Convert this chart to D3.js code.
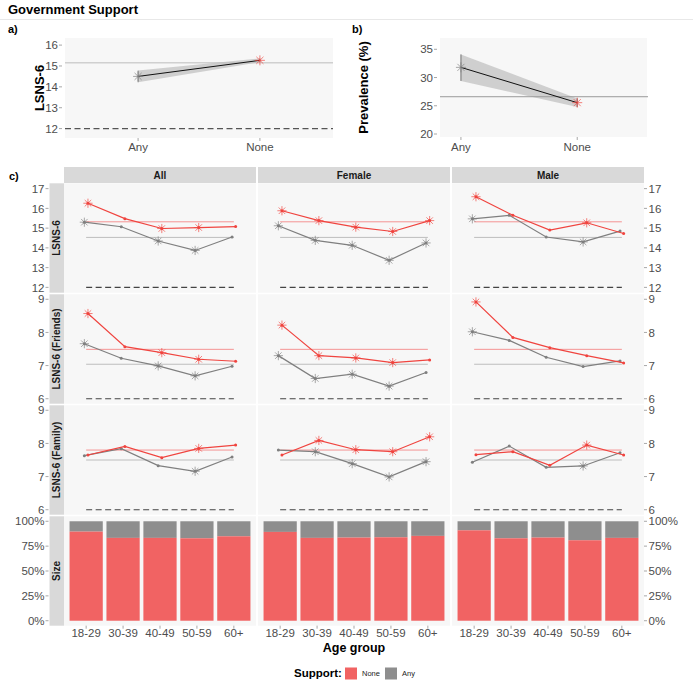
<!DOCTYPE html>
<html>
<head>
<meta charset="utf-8">
<script src="https://cdn.jsdelivr.net/npm/d3@7"></script>
<style>
  body { margin: 0; background: #fff; }
  svg { font-family: "Liberation Sans", Arial, sans-serif; }
</style>
</head>
<body>
<div id="chart"></div>
<script>
// ---- data ----
const supportLevels = ["Any", "None"];
const aMean = [14.5, 15.27];
const aLow = [14.22, 15.18];
const aHigh = [14.78, 15.36];
const aRef = 15.15;
const aFloor = 12;

const bMean = [31.8, 25.55];
const bLow = [29.4, 24.8];
const bHigh = [34.1, 26.3];
const bRef = 26.6;

const ageGroups = ["18-29", "30-39", "40-49", "50-59", "60+"];
const facets = ["All", "Female", "Male"];
const outcomes = ["LSNS-6", "LSNS-6 (Friends)", "LSNS-6 (Family)"];

// one row per facet (All, Female, Male)
const lsnsNone = [[16.26, 15.48, 14.98, 15.03, 15.08], [15.88, 15.38, 15.05, 14.83, 15.38], [16.59, 15.65, 14.90, 15.27, 14.73]];
const lsnsAny = [[15.30, 15.07, 14.35, 13.87, 14.55], [15.12, 14.38, 14.13, 13.37, 14.25], [15.47, 15.65, 14.55, 14.30, 14.85]];
const lsnsNoneSig = [[1, 0, 1, 1, 0], [1, 1, 1, 1, 1], [1, 0, 0, 1, 0]];
const lsnsAnySig = [[1, 0, 1, 1, 0], [1, 1, 1, 1, 1], [1, 0, 0, 1, 0]];

const friendsNone = [[8.57, 7.57, 7.39, 7.19, 7.13], [8.22, 7.30, 7.23, 7.09, 7.17], [8.92, 7.85, 7.54, 7.30, 7.08]];
const friendsAny = [[7.66, 7.22, 6.99, 6.69, 6.98], [7.30, 6.61, 6.74, 6.38, 6.79], [8.02, 7.76, 7.25, 6.97, 7.14]];
const friendsNoneSig = [[1, 0, 1, 1, 0], [1, 1, 1, 1, 0], [1, 0, 0, 0, 0]];
const friendsAnySig = [[1, 0, 1, 1, 0], [1, 1, 1, 1, 0], [1, 0, 0, 0, 0]];

const familyNone = [[7.65, 7.91, 7.57, 7.85, 7.95], [7.65, 8.09, 7.81, 7.75, 8.20], [7.66, 7.75, 7.34, 7.95, 7.65]];
const familyAny = [[7.63, 7.84, 7.33, 7.16, 7.59], [7.80, 7.75, 7.39, 6.99, 7.45], [7.43, 7.92, 7.28, 7.32, 7.72]];
const familyNoneSig = [[0, 0, 0, 1, 0], [0, 1, 1, 1, 1], [0, 0, 0, 1, 0]];
const familyAnySig = [[0, 0, 0, 1, 0], [0, 1, 1, 1, 1], [0, 0, 0, 1, 0]];

const refNone = [15.32, 7.49, 7.80];
const refAny = [14.53, 7.04, 7.50];
const floorLine = [12, 6, 6];

const shareNone = [[0.896, 0.833, 0.833, 0.829, 0.849], [0.893, 0.833, 0.836, 0.839, 0.853], [0.909, 0.829, 0.836, 0.809, 0.833]];

const rowDomains = [[11.73, 17.27], [5.85, 9.15], [5.85, 9.15], [-0.05, 1.05]];
const rowTicks = [[12, 13, 14, 15, 16, 17], [6, 7, 8, 9], [6, 7, 8, 9], [0, 0.25, 0.5, 0.75, 1]];
const rowLabels = ["LSNS-6", "LSNS-6 (Friends)", "LSNS-6 (Family)", "Size"];

// ---- look ----
const W = 693, H = 681;
const RED = "#F0443F";
const RED_BAR = "#F16363";
const GREY = "#7F7F7F";
const GREY_BAR = "#8E8E8E";
const PANEL_BG = "#F7F7F7";
const STRIP_BG = "#D9D9D9";
const TICK_COL = "#4D4D4D";

const svg = d3.select("#chart").append("svg").attr("width", W).attr("height", H);

// title
svg.append("text").attr("x", 8).attr("y", 14).attr("font-size", 13).attr("font-weight", "bold").text("Government Support");
svg.append("line").attr("x1", 0).attr("x2", W).attr("y1", 19.5).attr("y2", 19.5).attr("stroke", "#E8E8E8");

function asterisk(g, x, y, colour, r = 4.6) {
  const d = r * Math.SQRT1_2;
  g.append("path")
    .attr("d", `M${x},${y - r}L${x},${y + r}M${x - r},${y}L${x + r},${y}M${x - d},${y - d}L${x + d},${y + d}M${x - d},${y + d}L${x + d},${y - d}`)
    .attr("stroke", colour).attr("stroke-width", 0.8).attr("fill", "none").attr("opacity", 0.85);
}

function leftAxis(g, y, ticks, x0, fmt = d => d) {
  ticks.forEach(t => {
    g.append("line").attr("x1", x0 - 4).attr("x2", x0 - 1).attr("y1", y(t)).attr("y2", y(t)).attr("stroke", "#6b6b6b").attr("stroke-width", 0.6);
    g.append("text").attr("x", x0 - 5).attr("y", y(t)).attr("dy", "0.36em").attr("text-anchor", "end")
      .attr("font-size", 11.5).attr("fill", TICK_COL).text(fmt(t));
  });
}

// ---------- panel a ----------
{
  const x0 = 65, x1 = 333, y0 = 38, y1 = 138;
  const g = svg.append("g");
  const x = d3.scalePoint().domain(supportLevels).range([x0, x1]).padding(0.6);
  const y = d3.scaleLinear().domain([11.55, 16.34]).range([y1, y0]);
  g.append("rect").attr("x", x0).attr("y", y0).attr("width", x1 - x0).attr("height", y1 - y0).attr("fill", PANEL_BG);
  g.append("text").attr("x", 8).attr("y", 33).attr("font-size", 11).attr("font-weight", "bold").text("a)");
  leftAxis(g, y, [12, 13, 14, 15, 16], x0 - 2);
  g.append("text").attr("transform", `translate(44,${(y0 + y1) / 2}) rotate(-90)`).attr("text-anchor", "middle")
    .attr("font-size", 13).attr("font-weight", "bold").text("LSNS-6");
  supportLevels.forEach(s => {
    g.append("line").attr("x1", x(s)).attr("x2", x(s)).attr("y1", y1).attr("y2", y1 + 3).attr("stroke", "#6b6b6b").attr("stroke-width", 0.6);
    g.append("text").attr("x", x(s)).attr("y", y1 + 13).attr("text-anchor", "middle").attr("font-size", 11.5).attr("fill", TICK_COL).text(s);
  });
  g.append("line").attr("x1", x0).attr("x2", x1).attr("y1", y(aRef)).attr("y2", y(aRef)).attr("stroke", "#BDBDBD").attr("stroke-width", 1);
  g.append("line").attr("x1", x0).attr("x2", x1).attr("y1", y(aFloor)).attr("y2", y(aFloor)).attr("stroke", "#555").attr("stroke-width", 1.3).attr("stroke-dasharray", "6,3.5");
  const area = d3.area().x((d, i) => x(supportLevels[i])).y0((d, i) => y(aLow[i])).y1((d, i) => y(aHigh[i]));
  g.append("path").datum(aMean).attr("d", area).attr("fill", "#BEBEBE").attr("opacity", 0.7);
  supportLevels.forEach((s, i) => {
    g.append("line").attr("x1", x(s)).attr("x2", x(s)).attr("y1", y(aLow[i])).attr("y2", y(aHigh[i])).attr("stroke", "#666").attr("stroke-width", 0.7);
  });
  g.append("path").datum(aMean).attr("d", d3.line().x((d, i) => x(supportLevels[i])).y(d => y(d))).attr("fill", "none").attr("stroke", "#111").attr("stroke-width", 1);
  asterisk(g, x("Any"), y(aMean[0]), GREY, 5);
  asterisk(g, x("None"), y(aMean[1]), RED, 5);
}

// ---------- panel b ----------
{
  const x0 = 440, x1 = 647, y0 = 38, y1 = 137;
  const g = svg.append("g");
  const x = d3.scaleLinear().domain([0.82, 2.6]).range([x0, x1]);
  const y = d3.scaleLinear().domain([19.47, 37.0]).range([y1, y0]);
  g.append("rect").attr("x", x0).attr("y", y0).attr("width", x1 - x0).attr("height", y1 - y0).attr("fill", PANEL_BG);
  g.append("text").attr("x", 352).attr("y", 33).attr("font-size", 11).attr("font-weight", "bold").text("b)");
  leftAxis(g, y, [20, 25, 30, 35], x0 - 2);
  g.append("text").attr("transform", `translate(368,${(y0 + y1) / 2}) rotate(-90)`).attr("text-anchor", "middle")
    .attr("font-size", 13).attr("font-weight", "bold").text("Prevalence (%)");
  supportLevels.forEach((s, i) => {
    g.append("line").attr("x1", x(i + 1)).attr("x2", x(i + 1)).attr("y1", y1).attr("y2", y1 + 3).attr("stroke", "#6b6b6b").attr("stroke-width", 0.6);
    g.append("text").attr("x", x(i + 1)).attr("y", y1 + 14).attr("text-anchor", "middle").attr("font-size", 11.5).attr("fill", TICK_COL).text(s);
  });
  const area = d3.area().x((d, i) => x(i + 1)).y0((d, i) => y(bLow[i])).y1((d, i) => y(bHigh[i]));
  g.append("path").datum(bMean).attr("d", area).attr("fill", "#BEBEBE").attr("opacity", 0.7);
  g.append("line").attr("x1", x0).attr("x2", x1 + 1).attr("y1", y(bRef)).attr("y2", y(bRef)).attr("stroke", "#9A9A9A").attr("stroke-width", 1);
  supportLevels.forEach((s, i) => {
    g.append("line").attr("x1", x(i + 1)).attr("x2", x(i + 1)).attr("y1", y(bLow[i])).attr("y2", y(bHigh[i])).attr("stroke", "#555").attr("stroke-width", 0.8);
  });
  g.append("path").datum(bMean).attr("d", d3.line().x((d, i) => x(i + 1)).y(d => y(d))).attr("fill", "none").attr("stroke", "#111").attr("stroke-width", 1);
  asterisk(g, x(1), y(bMean[0]), GREY, 5);
  asterisk(g, x(2), y(bMean[1]), RED, 5);
}

// ---------- panel c ----------
const colX0 = [64, 258, 452];
const colW = 192;
const rowY0 = [183.3, 294.3, 405.3, 516.3];
const rowH = 109.4;
const stripX = 49.5;

svg.append("text").attr("x", 9).attr("y", 180).attr("font-size", 11).attr("font-weight", "bold").text("c)");

const lineSeries = [
  { none: lsnsNone, any: lsnsAny, noneSig: lsnsNoneSig, anySig: lsnsAnySig },
  { none: friendsNone, any: friendsAny, noneSig: friendsNoneSig, anySig: friendsAnySig },
  { none: familyNone, any: familyAny, noneSig: familyNoneSig, anySig: familyAnySig }
];

const gc = svg.append("g");

// column strips
facets.forEach((f, c) => {
  gc.append("rect").attr("x", colX0[c]).attr("y", 167).attr("width", colW).attr("height", 16).attr("fill", STRIP_BG);
  gc.append("text").attr("x", colX0[c] + colW / 2).attr("y", 175).attr("dy", "0.36em").attr("text-anchor", "middle")
    .attr("font-size", 10).attr("font-weight", "bold").attr("fill", "#1a1a1a").text(f);
});

rowLabels.forEach((lab, r) => {
  const top = rowY0[r], bottom = top + rowH;
  const y = d3.scaleLinear().domain(rowDomains[r]).range([bottom, top]);
  const fmt = r === 3 ? d3.format(".0%") : (d => d);

  // row strip
  gc.append("rect").attr("x", stripX).attr("y", top).attr("width", 64 - stripX).attr("height", rowH).attr("fill", STRIP_BG);
  gc.append("text").attr("transform", `translate(${(stripX + 64) / 2},${(top + bottom) / 2}) rotate(-90)`)
    .attr("dy", "0.36em").attr("text-anchor", "middle").attr("font-size", 10).attr("font-weight", "bold").attr("fill", "#1a1a1a").text(lab);

  // left and right axes
  leftAxis(gc, y, rowTicks[r], stripX, fmt);
  rowTicks[r].forEach(t => {
    gc.append("line").attr("x1", 644).attr("x2", 647).attr("y1", y(t)).attr("y2", y(t)).attr("stroke", "#6b6b6b").attr("stroke-width", 0.6);
    gc.append("text").attr("x", 648.5).attr("y", y(t)).attr("dy", "0.36em").attr("font-size", 11.5).attr("fill", TICK_COL).text(fmt(t));
  });

  facets.forEach((f, c) => {
    const x0 = colX0[c], x1 = x0 + colW;
    const g = gc.append("g");
    g.append("rect").attr("x", x0).attr("y", top).attr("width", colW).attr("height", rowH).attr("fill", PANEL_BG);

    if (r === 3) {
      const xb = d3.scaleBand().domain(ageGroups).range([x0, x1]).paddingInner(0.1).paddingOuter(0.15);
      const rows = ageGroups.map((a, i) => ({ a, none: shareNone[c][i] }));
      g.selectAll("rect.any").data(rows).enter().append("rect")
        .attr("x", d => xb(d.a)).attr("width", xb.bandwidth())
        .attr("y", y(1)).attr("height", d => y(d.none) - y(1)).attr("fill", GREY_BAR);
      g.selectAll("rect.none").data(rows).enter().append("rect")
        .attr("x", d => xb(d.a)).attr("width", xb.bandwidth())
        .attr("y", d => y(d.none)).attr("height", d => y(0) - y(d.none)).attr("fill", RED_BAR);
      // bottom axis
      ageGroups.forEach(a => {
        const cx = xb(a) + xb.bandwidth() / 2;
        g.append("line").attr("x1", cx).attr("x2", cx).attr("y1", bottom).attr("y2", bottom + 3).attr("stroke", "#6b6b6b").attr("stroke-width", 0.6);
        g.append("text").attr("x", cx).attr("y", bottom + 11.5).attr("text-anchor", "middle").attr("font-size", 11.5).attr("fill", TICK_COL).text(a);
      });
      return;
    }

    const x = d3.scalePoint().domain(ageGroups).range([x0, x1]).padding(0.6);
    const xs = x(ageGroups[0]), xe = x(ageGroups[ageGroups.length - 1]);
    g.append("line").attr("x1", xs).attr("x2", xe).attr("y1", y(refNone[r])).attr("y2", y(refNone[r])).attr("stroke", "#F47A7A").attr("stroke-width", 0.8);
    g.append("line").attr("x1", xs).attr("x2", xe).attr("y1", y(refAny[r])).attr("y2", y(refAny[r])).attr("stroke", "#BDBDBD").attr("stroke-width", 1);
    g.append("line").attr("x1", xs).attr("x2", xe).attr("y1", y(floorLine[r])).attr("y2", y(floorLine[r])).attr("stroke", "#444").attr("stroke-width", 1.2).attr("stroke-dasharray", "6,3.5");

    const s = lineSeries[r];
    [
      { vals: s.any[c], sig: s.anySig[c], col: GREY, dx: -1.8 },
      { vals: s.none[c], sig: s.noneSig[c], col: RED, dx: 1.8 }
    ].forEach(ser => {
      const line = d3.line().x((d, i) => x(ageGroups[i]) + ser.dx).y(d => y(d));
      g.append("path").datum(ser.vals).attr("d", line).attr("fill", "none").attr("stroke", ser.col).attr("stroke-width", 1.2);
      ser.vals.forEach((v, i) => {
        const px = x(ageGroups[i]) + ser.dx, py = y(v);
        g.append("circle").attr("cx", px).attr("cy", py).attr("r", 1.5).attr("fill", ser.col);
        if (ser.sig[i]) asterisk(g, px, py, ser.col, 4.6);
      });
    });
  });
});

// x axis title
svg.append("text").attr("x", 354).attr("y", 652).attr("text-anchor", "middle").attr("font-size", 12.5).attr("font-weight", "bold").text("Age group");

// legend
const legend = svg.append("g");
legend.append("text").attr("x", 294).attr("y", 677).attr("font-size", 11.5).attr("font-weight", "bold").text("Support:");
[{ lab: "None", col: RED_BAR, x: 345 }, { lab: "Any", col: GREY_BAR, x: 385 }].forEach(k => {
  legend.append("rect").attr("x", k.x).attr("y", 667.5).attr("width", 12).attr("height", 12).attr("fill", k.col);
  legend.append("text").attr("x", k.x + 17).attr("y", 673.5).attr("dy", "0.36em").attr("font-size", 7.5).attr("fill", "#222").text(k.lab);
});
</script>
</body>
</html>
